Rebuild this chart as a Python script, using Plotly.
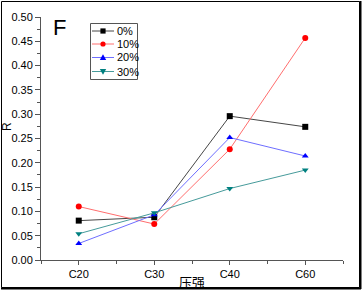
import plotly.graph_objects as go

categories = ["C20", "C30", "C40", "C60"]
series_names = ["0%", "10%", "20%", "30%"]
r_0 = [0.081, 0.088, 0.296, 0.274]
r_10 = [0.110, 0.074, 0.228, 0.457]
r_20 = [0.034, 0.093, 0.252, 0.214]
r_30 = [0.054, 0.097, 0.147, 0.185]
y_ticks = [0.00, 0.05, 0.10, 0.15, 0.20, 0.25, 0.30, 0.35, 0.40, 0.45, 0.50]

W, H = 362, 291
L, R, T, B = 41, 19, 17, 31
PW, PH = W - L - R, H - T - B

def px(x):
    return (x - L) / PW

def py(y):
    return (H - B - y) / PH

x_idx = list(range(len(categories)))

styles = [
    (r_0, "#000000", "rgb(70,70,70)", "square"),
    (r_10, "#ff0000", "rgb(255,110,110)", "circle"),
    (r_20, "#0000ff", "rgb(110,110,255)", "triangle-up"),
    (r_30, "#008080", "rgb(70,155,155)", "triangle-down"),
]

fig = go.Figure()
for name, (vals, mc, lc, sym) in zip(series_names, styles):
    fig.add_trace(go.Scatter(
        x=x_idx, y=vals, name=name, mode="lines+markers",
        line=dict(color=lc, width=1),
        marker=dict(color=mc, symbol=sym, size=6, line=dict(width=0)),
        showlegend=False,
    ))

base_font = "Liberation Sans, Arial, sans-serif"
axis_font = dict(family=base_font, size=11, color="#000000")

shapes = []
annotations = []

# Legend box (drawn manually for compact spacing)
lx0, lx1, ly0, ly1 = 90, 137, 23, 79
shapes.append(dict(type="rect", xref="paper", yref="paper",
                   x0=px(lx0 + 0.5), x1=px(lx1 + 0.5), y0=py(ly1 + 0.5), y1=py(ly0 + 0.5),
                   line=dict(color="#555555", width=1), fillcolor="white", layer="above"))
entry_y = [31, 44, 57.5, 71.5]
for (name, (vals, mc, lc, sym)), ey in zip(zip(series_names, styles), entry_y):
    shapes.append(dict(type="line", xref="paper", yref="paper",
                       x0=px(92), x1=px(114), y0=py(ey), y1=py(ey),
                       line=dict(color=lc, width=1), layer="above"))
    cx, s = 103, 2.6
    if sym == "square":
        shapes.append(dict(type="rect", xref="paper", yref="paper",
                           x0=px(cx - s), x1=px(cx + s), y0=py(ey + s), y1=py(ey - s),
                           line=dict(width=0), fillcolor=mc, layer="above"))
    elif sym == "circle":
        shapes.append(dict(type="circle", xref="paper", yref="paper",
                           x0=px(cx - s), x1=px(cx + s), y0=py(ey + s), y1=py(ey - s),
                           line=dict(width=0), fillcolor=mc, layer="above"))
    elif sym == "triangle-up":
        path = f"M {px(cx - 3.2)} {py(ey + 2.6)} L {px(cx + 3.2)} {py(ey + 2.6)} L {px(cx)} {py(ey - 3.2)} Z"
        shapes.append(dict(type="path", xref="paper", yref="paper", path=path,
                           line=dict(width=0), fillcolor=mc, layer="above"))
    else:
        path = f"M {px(cx - 3.2)} {py(ey - 2.6)} L {px(cx + 3.2)} {py(ey - 2.6)} L {px(cx)} {py(ey + 3.2)} Z"
        shapes.append(dict(type="path", xref="paper", yref="paper", path=path,
                           line=dict(width=0), fillcolor=mc, layer="above"))
    annotations.append(dict(text=name, x=px(115), y=py(ey), xref="paper", yref="paper",
                            xanchor="left", yanchor="middle", showarrow=False,
                            font=dict(family=base_font, size=11, color="black")))

annotations.append(dict(text="F", x=px(51), y=py(13), xref="paper", yref="paper",
                        xanchor="left", yanchor="top", showarrow=False,
                        font=dict(family=base_font, size=22, color="black")))
annotations.append(dict(text="R", x=px(7), y=py(127), xref="paper", yref="paper",
                        xanchor="center", yanchor="middle", showarrow=False, textangle=-90,
                        font=dict(family=base_font, size=12, color="black")))

# Outer frame
shapes += [
    dict(type="rect", xref="paper", yref="paper",
         x0=px(1.5), x1=px(359.5), y0=py(287.5), y1=py(1.5),
         line=dict(color="black", width=1)),
    dict(type="line", xref="paper", yref="paper",
         x0=px(360.5), x1=px(360.5), y0=py(289), y1=py(1),
         line=dict(color="black", width=2)),
    dict(type="line", xref="paper", yref="paper",
         x0=px(1), x1=px(361), y0=py(288.5), y1=py(288.5),
         line=dict(color="black", width=2)),
]

fig.update_layout(
    width=W, height=H,
    margin=dict(l=L, r=R, t=T, b=B, pad=0, autoexpand=False),
    paper_bgcolor="white", plot_bgcolor="white",
    font=axis_font,
    showlegend=False,
    xaxis=dict(
        range=[-0.5, 3.5], tickmode="array", tickvals=x_idx, ticktext=categories,
        showline=True, linecolor="#555555", linewidth=1, mirror=False, automargin=False,
        ticks="outside", ticklen=4, tickcolor="#555555", showgrid=False, zeroline=False,
        minor=dict(tickmode="array", tickvals=[-0.5, 0.5, 1.5, 2.5, 3.5], ticks="outside", ticklen=3, tickcolor="#555555"),
        title=dict(text="压强", standoff=2, font=dict(family="Noto Sans CJK SC", size=13)),
        tickfont=axis_font,
    ),
    yaxis=dict(
        range=[0, 0.5], tickmode="array", tickvals=y_ticks,
        tickformat=".2f", automargin=False,
        showline=True, linecolor="#555555", linewidth=1, mirror=False,
        ticks="outside", ticklen=5, tickcolor="#555555", showgrid=False, zeroline=False,
        minor=dict(dtick=0.025, ticks="outside", ticklen=3, tickcolor="#555555"),
        tickfont=axis_font,
    ),
    annotations=annotations,
    shapes=shapes,
)

fig.write_html(
    "out.html",
    config={"displayModeBar": False},
    post_script="document.body.style.margin='0';document.body.style.overflow='hidden';",
)
